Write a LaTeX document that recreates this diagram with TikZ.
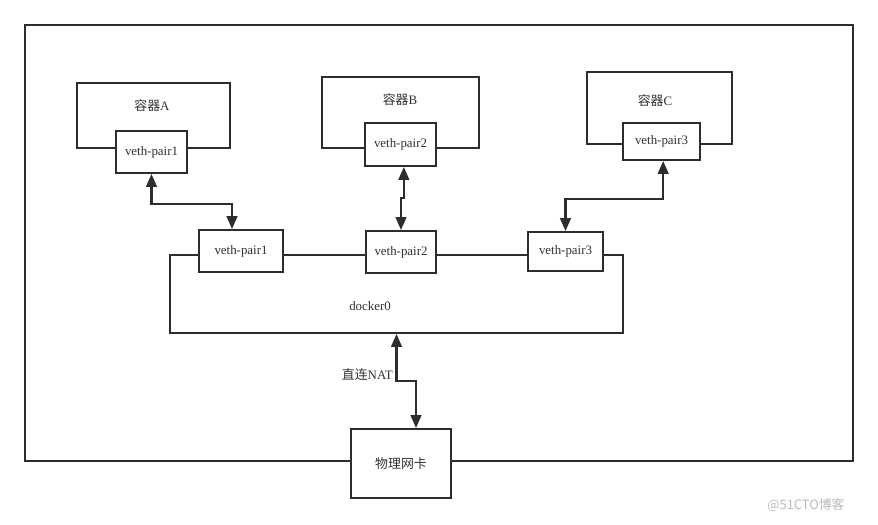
\documentclass[tikz,border=0pt]{standalone}
\usepackage{fontspec}
\setmainfont{Liberation Serif}
\newfontfamily\cjk{Noto Sans CJK SC}
\usepackage{tikz}
\usetikzlibrary{arrows.meta, positioning}
\definecolor{lineblack}{RGB}{45, 45, 45}
\definecolor{textgray}{RGB}{50, 50, 50}

\begin{document}
\begin{tikzpicture}[x=0.03cm, y=-0.03cm,
    box/.style={rectangle, draw=lineblack, line width=1.6pt, fill=white, inner sep=0pt, text=textgray, font=\fontsize{11}{13}\selectfont},
    txt/.style={text=textgray, inner sep=0pt, font=\fontsize{11}{13}\selectfont},
    link/.style={draw=lineblack, line width=2pt, {Triangle[length=11pt,width=9pt]}-{Triangle[length=11pt,width=9pt]}}]

    \useasboundingbox (0,0) rectangle (878,524);
    \draw [lineblack, line width=1.6pt] (25,25) rectangle (853,461);

    % containers
    \node [box, minimum width=4.59cm, minimum height=1.95cm] (ctA) at (153.5,115.5) {};
    \node [box, minimum width=4.71cm, minimum height=2.13cm] (ctB) at (400.5,112.5) {};
    \node [box, minimum width=4.35cm, minimum height=2.16cm] (ctC) at (659.5,108) {};
    \node [txt] (nameA) at (152,106) {{\cjk 容器}A};
    \node [txt] (nameB) at (400,100) {{\cjk 容器}B};
    \node [txt] (nameC) at (655,101) {{\cjk 容器}C};
    \node [box, minimum width=2.13cm, minimum height=1.26cm] (vA) at (151.5,152) {veth-pair1};
    \node [box, minimum width=2.13cm, minimum height=1.29cm] (vB) at (400.5,144.5) {veth-pair2};
    \node [box, minimum width=2.31cm, minimum height=1.11cm] (vC) at (661.5,141.5) {veth-pair3};

    % bridge
    \node [box, minimum width=13.59cm, minimum height=2.34cm] (dock) at (396.5,294) {};
    \node [txt] (dockname) at (370,306) {docker0};
    \node [box, minimum width=2.52cm, minimum height=1.26cm] (br1) at (241,251) {veth-pair1};
    \node [box, minimum width=2.1cm, minimum height=1.26cm] (br2) at (401,252) {veth-pair2};
    \node [box, minimum width=2.25cm, minimum height=1.17cm] (br3) at (565.5,251.5) {veth-pair3};

    % host nic
    \node [box, minimum width=3cm, minimum height=2.07cm] (nic) at (401,463.5) {{\cjk 物理网卡}};
    \node [txt, anchor=east] (nat) at (393,375) {{\cjk 直连}NAT};

    \path [link] (vA.south) -- ++(0,30) -| ([xshift=-0.27cm]br1.north);
    \path [link] ([xshift=0.1cm]vB.south) -- ++(0,31) -| (br2.north);
    \path [link] ([xshift=0.05cm]vC.south) -- ++(0,38) -| (br3.north);
    \path [link] (dock.south) -- ++(0,47) -| ([xshift=0.45cm]nic.north);

    \node [txt, text=gray!55, font=\cjk\fontsize{11}{13}\selectfont] (mark) at (806,505) {@51CTO博客};
  \end{tikzpicture}
\end{document}
